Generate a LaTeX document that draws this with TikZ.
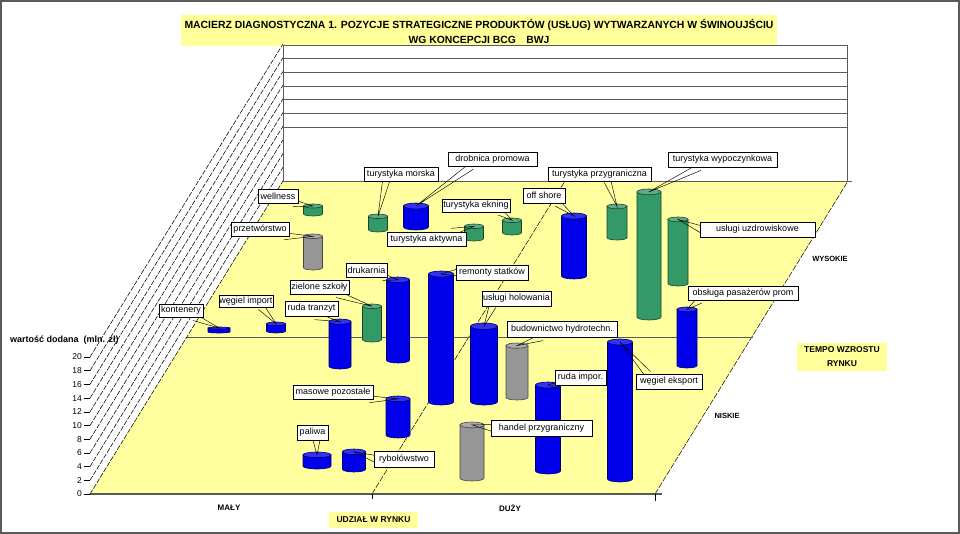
\documentclass[tikz,border=0pt]{standalone}
\usepackage{fontspec}
\setmainfont{Liberation Sans}
\usetikzlibrary{calc,shadows}
\definecolor{cblue}{RGB}{0,0,235}
\definecolor{cgreen}{RGB}{51,153,102}
\definecolor{cgray}{RGB}{150,150,150}
\definecolor{floory}{RGB}{255,255,160}
\definecolor{ttly}{RGB}{255,255,153}
\definecolor{edgegray}{RGB}{90,90,90}
\pgfdeclarelayer{labels}
\pgfsetlayers{main,labels}
\newcommand\cyl[6]{%
  \pgfmathsetmacro\cyR{#5/2}%
  \pgfmathsetmacro\cyY{min(#5*0.12,(#4-#3)/6)}%
  \pgfmathsetmacro\cyT{#3+\cyY}%
  \pgfmathsetmacro\cyB{#4-\cyY}%
  \filldraw[fill=#6, draw=#6!45!black, line width=0.6pt] (#2-\cyR,\cyT) -- (#2-\cyR,\cyB) arc[start angle=180,end angle=360,x radius=\cyR pt,y radius=\cyY pt] -- (#2+\cyR,\cyT) -- cycle;
  \filldraw[fill=#6!80!white, draw=#6!45!black, line width=0.6pt] (#2,\cyT) ellipse[x radius=\cyR pt, y radius=\cyY pt];
  \coordinate (#1) at (#2,\cyT);
}
\newcommand\lab[6]{%
  \pgfmathsetmacro\lbW{#4-#2}%
  \pgfmathsetmacro\lbH{#5-#3}%
  \node[lbl, minimum width=\lbW pt, minimum height=\lbH pt] (#1) at ({(#2+#4)/2},{(#3+#5)/2}) {#6};%
}
\newcommand\callout[2]{%
  \draw[line width=0.45pt] ($#1!3.5pt!90:(#2)$) -- (#2) -- ($#1!3.5pt!-90:(#2)$);%
}
\tikzset{
  lbl/.style={draw=black, line width=0.5pt, fill=white, inner sep=0pt,
    font=\fontsize{9}{9}\selectfont,
    general shadow={fill=black, shadow xshift=1pt, shadow yshift=-1pt}},
  axlbl/.style={font=\fontsize{8.5}{9}\selectfont, anchor=east, inner sep=0pt},
  boldlbl/.style={font=\bfseries\fontsize{7.5}{9}\selectfont, inner sep=0pt},
}
\begin{document}
\begin{tikzpicture}[x=1pt,y=-1pt]
\useasboundingbox (0,0) rectangle (960,534);
\fill[white] (0,0) rectangle (960,534);
% title
\node[fill=ttly, minimum width=596pt, minimum height=31pt, inner sep=0pt] (titlebox) at (479,30.5) {};
\node[font=\bfseries\fontsize{10.4}{15.5}\selectfont, align=center, inner sep=0pt] (title) at (479,31.5)
  {MACIERZ DIAGNOSTYCZNA 1. POZYCJE STRATEGICZNE PRODUKTÓW (USŁUG) WYTWARZANYCH W ŚWINOUJŚCIU\\WG KONCEPCJI BCG\quad BWJ};
% back wall
\draw[edgegray, line width=0.7pt] (283,181) -- (283,45) -- (847,45) -- (847,181);
\foreach \yy in {58,72,86,99,113,127} {\draw[edgegray, line width=0.9pt] (283,\yy) -- (847,\yy);}
% floor
\fill[floory] (90,494) -- (655,494) -- (848,181) -- (283,181) -- cycle;
\draw[edgegray, line width=0.7pt] (283,181) -- (852,181);
\draw[black, line width=0.5pt, dash pattern=on 6pt off 1.5pt] (655,494) -- (848,181);
\draw[black, line width=0.5pt, dash pattern=on 6pt off 1.5pt] (372,494) -- (565,181);
\draw[edgegray, line width=0.9pt] (187,337) -- (753,337);
\draw[edgegray, line width=1.2pt] (90,494) -- (662,494);
\draw[black, line width=0.5pt] (372,494) -- (372,499);
\draw[black, line width=0.5pt] (655,494) -- (655,501);
% left wall and scale
\foreach \k in {0,...,10} {
  \pgfmathsetmacro\yy{494-13.7*\k}
  \pgfmathtruncatemacro\vv{2*\k}
  \draw[black, line width=0.55pt, dash pattern=on 5pt off 1.5pt] (90,\yy) -- (283,\yy-313);
  \draw[black, line width=0.6pt] (84,\yy) -- (90,\yy);
  \node[axlbl] (tick\k) at (82,\yy) {\vv};
}
\node[font=\bfseries\fontsize{9}{10}\selectfont, anchor=west, inner sep=0pt] (yaxis) at (10,340) {wartość dodana\ \ (mln. zł)};
% cylinders (back to front)
\cyl{wel}{313}{204}{216}{19}{cgreen}
\cyl{dro}{416}{203}{230}{25}{cblue}
\cyl{tmo}{378}{214}{232}{19}{cgreen}
\cyl{tek}{512}{218}{235}{19}{cgreen}
\cyl{tpg}{617}{204}{240}{20}{cgreen}
\cyl{tak}{474}{224}{241}{19}{cgreen}
\cyl{prz}{313}{234}{270}{19}{cgray}
\cyl{off}{574}{213}{279}{25}{cblue}
\cyl{uzd}{678}{217}{286}{20}{cgreen}
\cyl{twy}{649}{189}{320}{24}{cgreen}
\cyl{kon}{219}{327}{333}{22}{cblue}
\cyl{wim}{276}{322}{333}{19}{cblue}
\cyl{zie}{372}{304}{342}{19}{cgreen}
\cyl{dru}{398}{277}{363}{23}{cblue}
\cyl{obs}{687}{307}{368}{20}{cblue}
\cyl{rtr}{340}{319}{369}{22}{cblue}
\cyl{bud}{517}{343}{400}{22}{cgray}
\cyl{rem}{441}{271}{405}{25}{cblue}
\cyl{hol}{484}{323}{405}{27}{cblue}
\cyl{mas}{398}{396}{438}{24}{cblue}
\cyl{pal}{317}{452}{469}{28}{cblue}
\cyl{ryb}{354}{449}{472}{23}{cblue}
\cyl{rim}{548}{382}{474}{25}{cblue}
\cyl{han}{472}{422}{481}{24}{cgray}
\cyl{wex}{620}{339}{482}{25}{cblue}
% labels
\begin{pgfonlayer}{labels}
\lab{l-wel}{258}{189}{298}{203}{wellness}
\lab{l-prz}{231}{222}{289}{236}{przetwórstwo}
\lab{l-tmo}{364}{167}{438}{181}{turystyka morska}
\lab{l-dro}{448}{152}{537}{166}{drobnica promowa}
\lab{l-tek}{442}{199}{510}{212}{turystyka ekning}
\lab{l-tak}{387}{232}{466}{246}{turystyka aktywna}
\lab{l-off}{523}{188}{565}{203}{off shore}
\lab{l-tpg}{548}{167}{651}{181}{turystyka przygraniczna}
\lab{l-twy}{668}{152}{777}{167}{turystyka wypoczynkowa}
\lab{l-uzd}{700}{222}{815}{237}{usługi uzdrowiskowe}
\lab{l-obs}{688}{286}{798}{300}{obsługa pasażerów prom}
\lab{l-wex}{636}{374}{702}{389}{węgiel eksport}
\lab{l-kon}{159}{304}{203}{317}{kontenery}
\lab{l-wim}{219}{295}{273}{307}{węgiel import}
\lab{l-rtr}{285}{301}{338}{316}{ruda tranzyt}
\lab{l-zie}{290}{280}{349}{294}{zielone szkoły}
\lab{l-dru}{346}{263}{387}{277}{drukarnia}
\lab{l-rem}{456}{265}{528}{280}{remonty statków}
\lab{l-hol}{482}{291}{551}{306}{usługi holowania}
\lab{l-bud}{507}{321}{617}{337}{budownictwo hydrotechn.}
\lab{l-rim}{555}{370}{606}{385}{ruda impor.}
\lab{l-mas}{293}{385}{373}{399}{masowe pozostałe}
\lab{l-pal}{297}{425}{328}{440}{paliwa}
\lab{l-ryb}{374}{451}{434}{467}{rybołówstwo}
\lab{l-han}{491}{420}{592}{436}{handel przygraniczny}
\end{pgfonlayer}
% callouts
\callout{([xshift=-5pt]l-wel.south east)}{wel}
\callout{([xshift=-5pt]l-prz.south east)}{prz}
\callout{([xshift=-15pt]l-tmo.south)}{tmo}
\callout{([xshift=-21pt]l-dro.south)}{dro}
\callout{([xshift=-10pt]l-tek.south east)}{tek}
\callout{([xshift=-14pt]l-tak.north east)}{tak}
\callout{([xshift=-8pt]l-off.south east)}{off}
\callout{([xshift=8pt]l-tpg.south)}{tpg}
\callout{([xshift=-23pt]l-twy.south)}{twy}
\callout{([xshift=2pt]l-uzd.west)}{uzd}
\callout{([xshift=12pt]l-obs.south west)}{obs}
\callout{([xshift=12pt]l-wex.north west)}{wex}
\callout{([xshift=-9pt]l-kon.south east)}{kon}
\callout{([xshift=-12pt]l-wim.south east)}{wim}
\callout{([xshift=4pt]l-rtr.south)}{rtr}
\callout{([xshift=-12pt]l-zie.south east)}{zie}
\callout{([xshift=-4pt]l-dru.south east)}{dru}
\callout{([xshift=2pt]l-rem.west)}{rem}
\callout{([xshift=-24pt]l-hol.south)}{hol}
\callout{([xshift=-20pt]l-bud.south)}{bud}
\callout{([xshift=3pt]l-rim.south west)}{rim}
\callout{([xshift=-4pt]l-mas.south east)}{mas}
\callout{([xshift=4pt]l-pal.south)}{pal}
\callout{([xshift=2pt]l-ryb.west)}{ryb}
\callout{([xshift=2pt]l-han.west)}{han}
% axis captions
\node[boldlbl, font=\bfseries\fontsize{8}{9}\selectfont] (maly) at (229,508) {MAŁY};
\node[boldlbl, font=\bfseries\fontsize{8}{9}\selectfont] (duzy) at (510,508) {DUŻY};
\node[boldlbl, fill=ttly, minimum width=89pt, minimum height=16pt, font=\bfseries\fontsize{8.5}{9}\selectfont] (udzial) at (373.5,520) {UDZIAŁ W RYNKU};
\node[boldlbl] (wysokie) at (830,259) {WYSOKIE};
\node[boldlbl] (niskie) at (727,416) {NISKIE};
\node[fill=ttly, minimum width=90pt, minimum height=28pt, inner sep=0pt, align=center, font=\bfseries\fontsize{8.5}{14}\selectfont] (tempo) at (842,357) {TEMPO WZROSTU\\RYNKU};
% frame
\draw[edgegray, line width=2pt] (1,1) rectangle (959,533);
\end{tikzpicture}
\end{document}
